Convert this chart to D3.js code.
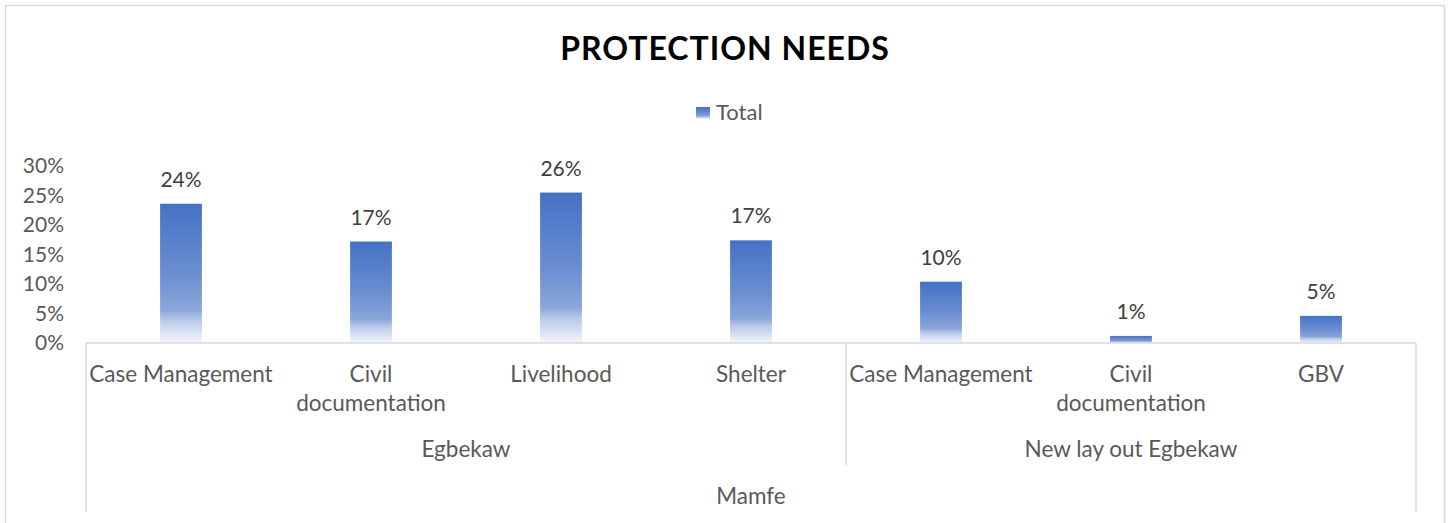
<!DOCTYPE html>
<html>
<head>
<meta charset="utf-8">
<script src="https://cdn.jsdelivr.net/npm/d3@7"></script>
<style>
  html, body { margin: 0; padding: 0; background: #fff; }
  svg { display: block; font-family: Lato, "Noto Sans", sans-serif; }
</style>
</head>
<body>
<div id="chart"></div>
<script>
// ---- data ----
const categories = ["Case Management", "Civil documentation", "Livelihood", "Shelter",
                    "Case Management", "Civil documentation", "GBV"];
const groups = ["Egbekaw", "Egbekaw", "Egbekaw", "Egbekaw",
                "New lay out Egbekaw", "New lay out Egbekaw", "New lay out Egbekaw"];
const topGroup = "Mamfe";
const totalValues = [0.236, 0.172, 0.255, 0.174, 0.104, 0.012, 0.046];
const yTicks = [0, 0.05, 0.10, 0.15, 0.20, 0.25, 0.30];
const seriesName = "Total";
const title = "PROTECTION NEEDS";

// ---- layout ----
const W = 1449, H = 523;
const left = 86, right = 1416, y0 = 343, yTop = 166;
const gridColor = "#D9D9D9";
const textColor = "#595959";

const svg = d3.select("#chart").append("svg").attr("width", W).attr("height", H);

const defs = svg.append("defs");
const grad = defs.append("linearGradient").attr("id", "barGrad")
  .attr("x1", 0).attr("y1", 0).attr("x2", 0).attr("y2", 1);
[[0, "#4472C4"], [0.5, "#6A8ED0"], [0.76, "#8AA5D9"], [0.84, "#B9CAEA"], [1, "#F4F6FC"]]
  .forEach(([o, c]) => grad.append("stop").attr("offset", o).attr("stop-color", c));

// outer border
svg.append("rect").attr("x", 5.5).attr("y", 5.5).attr("width", 1439).attr("height", 540)
  .attr("fill", "none").attr("stroke", gridColor).attr("stroke-width", 1.5);

// title
svg.append("text").attr("x", 725).attr("y", 60).attr("text-anchor", "middle")
  .attr("font-size", 32).attr("font-weight", 700).attr("fill", "#000")
  .attr("letter-spacing", 1).text(title);

// legend
const lg = svg.append("g");
lg.append("rect").attr("x", 696).attr("y", 107).attr("width", 14).attr("height", 12)
  .attr("fill", "url(#barGrad)");
lg.append("text").attr("x", 716).attr("y", 120).attr("font-size", 22)
  .attr("fill", textColor).text(seriesName);

// scales
const idx = d3.range(categories.length);
const x = d3.scaleBand().domain(idx).range([left, right])
  .paddingInner(0.78).paddingOuter(0.39);
const y = d3.scaleLinear().domain([0, 0.30]).range([y0, yTop]);

// y axis
const yAxis = d3.axisLeft(y).tickValues(yTicks).tickFormat(d3.format(".0%")).tickSize(0).tickPadding(0);
const ya = svg.append("g").attr("transform", `translate(64,0)`).call(yAxis);
ya.select(".domain").remove();
ya.selectAll("text").attr("font-size", 21).attr("fill", textColor)
  .attr("font-family", "Lato, 'Noto Sans', sans-serif");

// bars
svg.append("g").selectAll("rect").data(idx).join("rect")
  .attr("x", i => x(i)).attr("width", x.bandwidth())
  .attr("y", i => y(totalValues[i])).attr("height", i => y0 - y(totalValues[i]))
  .attr("fill", "url(#barGrad)");

// data labels
svg.append("g").selectAll("text").data(idx).join("text")
  .attr("x", i => x(i) + x.bandwidth() / 2).attr("y", i => y(totalValues[i]) - 17)
  .attr("text-anchor", "middle").attr("font-size", 21).attr("fill", "#404040")
  .text(i => d3.format(".0%")(totalValues[i]));

// category axis lines
const step = x.step();
const ax = svg.append("g").attr("stroke", gridColor).attr("stroke-width", 1.5);
ax.append("line").attr("x1", left).attr("x2", right).attr("y1", y0).attr("y2", y0);
ax.append("line").attr("x1", left).attr("x2", left).attr("y1", y0).attr("y2", 512);
ax.append("line").attr("x1", right).attr("x2", right).attr("y1", y0).attr("y2", 512);
// group separators
const groupNames = Array.from(new Set(groups));
const groupSpans = groupNames.map(g => {
  const ids = idx.filter(i => groups[i] === g);
  return { name: g, x0: x(ids[0]) - x.paddingInner() * step / 2,
           x1: x(ids[ids.length - 1]) + x.bandwidth() + x.paddingInner() * step / 2 };
});
groupSpans.slice(1).forEach(s => {
  ax.append("line").attr("x1", s.x0).attr("x2", s.x0).attr("y1", y0).attr("y2", 465);
});

// category labels (wrapped)
const cl = svg.append("g").attr("font-size", 22.5).attr("fill", textColor).attr("text-anchor", "middle");
idx.forEach(i => {
  const cx = x(i) + x.bandwidth() / 2;
  const words = categories[i] === "Civil documentation" ? ["Civil", "documentation"] : [categories[i]];
  words.forEach((w, k) => {
    cl.append("text").attr("x", cx).attr("y", 382 + k * 29).text(w);
  });
});

// group labels
groupSpans.forEach(s => {
  cl.append("text").attr("x", (s.x0 + s.x1) / 2).attr("y", 457).text(s.name);
});
cl.append("text").attr("x", (left + right) / 2).attr("y", 504).text(topGroup);
</script>
</body>
</html>
